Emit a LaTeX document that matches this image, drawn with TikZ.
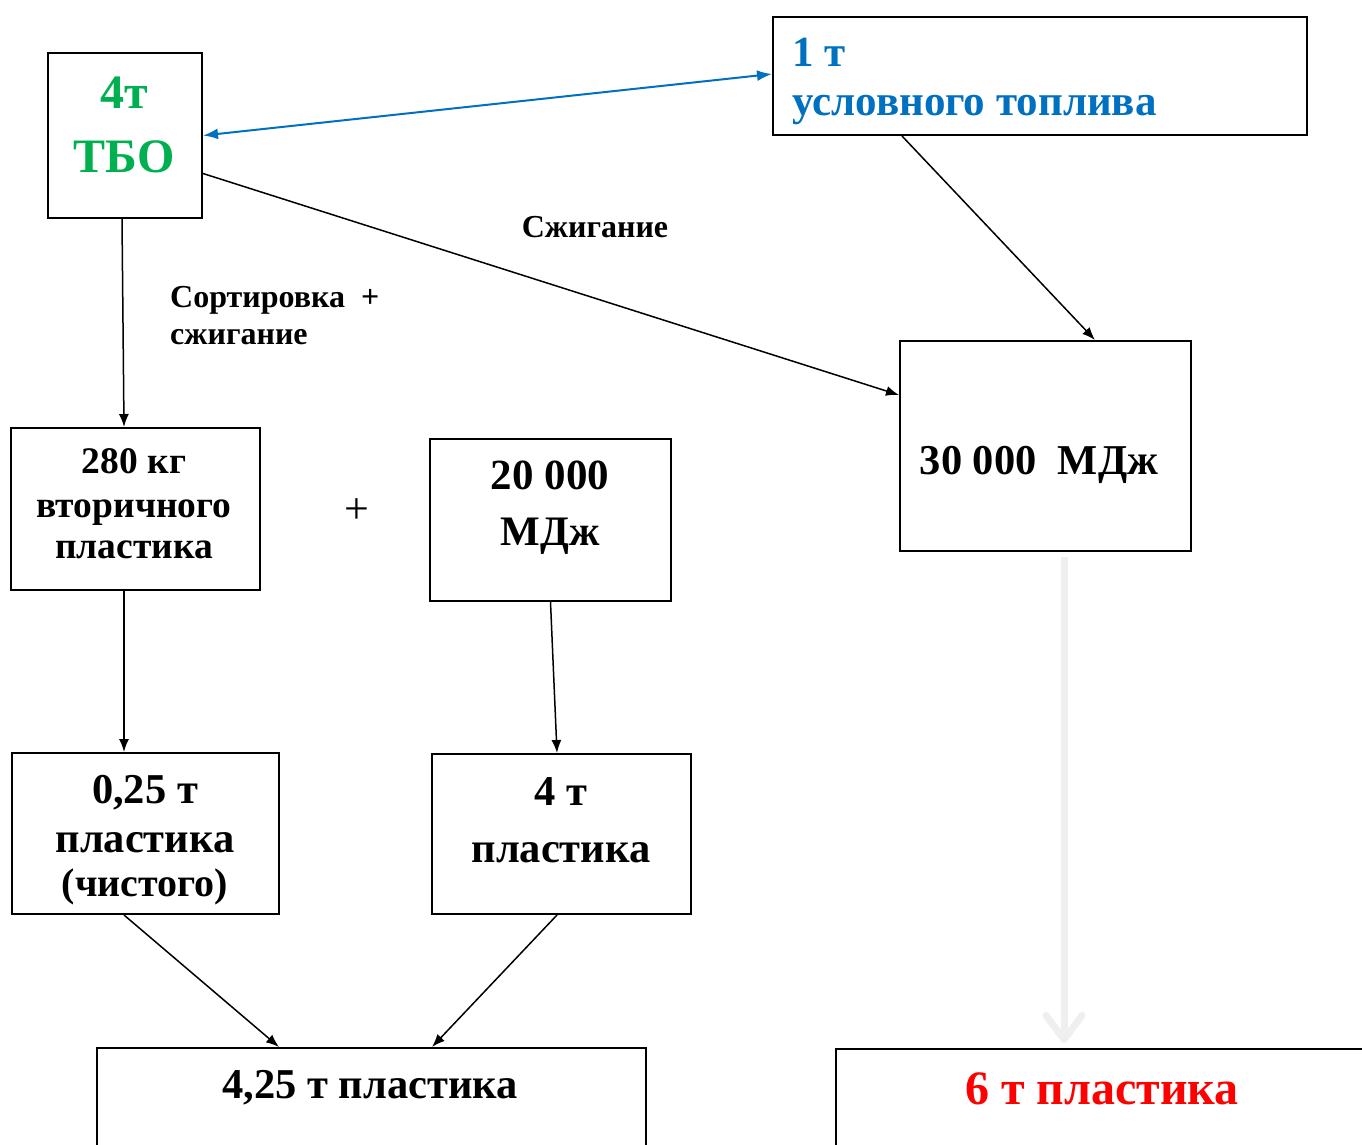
\documentclass[tikz,border=0pt]{standalone}
\usepackage{fontspec}
\setmainfont{Liberation Serif}
\usetikzlibrary{arrows.meta}
\definecolor{tgreen}{HTML}{00B050}
\definecolor{tblue}{HTML}{0070C0}
\definecolor{tred}{HTML}{FF0000}
\definecolor{tgray}{HTML}{EFEFEF}
\newcommand{\fsz}[2]{\fontsize{#1}{#2}\selectfont\bfseries}
\tikzset{
  box/.style={draw, line width=2pt, inner sep=0pt, anchor=north west},
  txt/.style={inner sep=0pt, anchor=base},
  conn/.style={line width=1.5pt, -{Latex[length=13pt,width=10pt]}},
  bluearr/.style={line width=2pt, tblue, {Latex[length=15pt,width=11pt]}-{Latex[length=15pt,width=11pt]}},
  grayarr/.style={line width=7pt, tgray, -{Straight Barb[length=24pt,width=36pt,round]}}
}
\begin{document}
\begin{tikzpicture}[x=1pt,y=-1pt]
\useasboundingbox (0,0) rectangle (1362,1144);
\clip (0,0) rectangle (1362,1144);
\fill[white] (0,0) rectangle (1362,1144);
% boxes
\node[box, minimum width=154pt, minimum height=165pt] (tbo) at (47,52) {};
\node[box, minimum width=534pt, minimum height=118pt] (fuel) at (772,16) {};
\node[box, minimum width=291pt, minimum height=210pt] (mj30) at (899,340) {};
\node[box, minimum width=249pt, minimum height=162pt] (p280) at (10,427) {};
\node[box, minimum width=241pt, minimum height=162pt] (mj20) at (429,438) {};
\node[box, minimum width=267pt, minimum height=161pt] (p025) at (11,752) {};
\node[box, minimum width=259pt, minimum height=160pt] (p4) at (431,753) {};
\node[box, minimum width=549pt, minimum height=200pt] (total) at (96,1047) {};
\node[box, minimum width=534pt, minimum height=200pt] (six) at (835,1048) {};
% texts
\node[txt, text=tgreen, font=\fsz{48}{56}] (t1a) at (124,108) {4т};
\node[txt, text=tgreen, font=\fsz{48}{56}] (t1b) at (124,172) {ТБО};
\node[txt, anchor=base west, text=tblue, font=\fsz{43}{50}] (t2a) at (792,66) {1 т};
\node[txt, anchor=base west, text=tblue, font=\fsz{43}{50}] (t2b) at (792,115) {условного топлива};
\node[txt, font=\fsz{42.5}{50}] (t3) at (1039,474) {30 000\ \ МДж};
\node[txt, font=\fsz{37.5}{44}] (t4a) at (134,473) {280 кг};
\node[txt, font=\fsz{37.5}{44}] (t4b) at (134,517) {вторичного};
\node[txt, font=\fsz{37.5}{44}] (t4c) at (134,558) {пластика};
\node[txt, font=\fsz{44}{50}\mdseries] (plus) at (357,523) {+};
\node[txt, font=\fsz{43}{50}] (t5a) at (550,489) {20 000};
\node[txt, font=\fsz{42}{50}] (t5b) at (550,545) {МДж};
\node[txt, font=\fsz{42.5}{50}] (t6a) at (145,803) {0,25 т};
\node[txt, font=\fsz{42.5}{50}] (t6b) at (145,852) {пластика};
\node[txt, font=\fsz{40}{48}] (t6c) at (145,896) {(чистого)};
\node[txt, font=\fsz{42.5}{50}] (t7a) at (561,805) {4 т};
\node[txt, font=\fsz{42.5}{50}] (t7b) at (561,862) {пластика};
\node[txt, font=\fsz{42.5}{50}] (t8) at (370,1098) {4,25 т пластика};
\node[txt, text=tred, font=\fsz{48}{56}] (t9) at (1102,1104) {6 т пластика};
\node[txt, font=\fsz{32}{38}] (l1) at (595,237) {Сжигание};
\node[txt, anchor=base west, font=\fsz{32}{38}] (l2a) at (170,307) {Сортировка\ \ +};
\node[txt, anchor=base west, font=\fsz{32}{38}] (l2b) at (170,344) {сжигание};
% connectors
\draw[bluearr] (tbo.east) -- ([yshift=2pt]fuel.west);
\draw[conn] ([yshift=-38pt]tbo.east) -- ([yshift=51pt]mj30.west);
\draw[conn] ([xshift=-3pt]tbo.south) -- ([xshift=-11.5pt]p280.north);
\draw[conn] ([xshift=-138pt]fuel.south) -- ([xshift=49.5pt]mj30.north);
\draw[conn] ([xshift=-11.5pt]p280.south) -- ([xshift=-21.5pt]p025.north);
\draw[conn] (mj20.south) -- ([xshift=-4.5pt]p4.north);
\draw[conn] ([xshift=-21.5pt]p025.south) -- ([xshift=-92.5pt]total.north);
\draw[conn] ([xshift=-4.5pt]p4.south) -- ([xshift=60.5pt]total.north);
\draw[grayarr] ([xshift=18.5pt,yshift=-5pt]mj30.south) -- ([xshift=-39pt,yshift=5pt]six.north);
\end{tikzpicture}
\end{document}
